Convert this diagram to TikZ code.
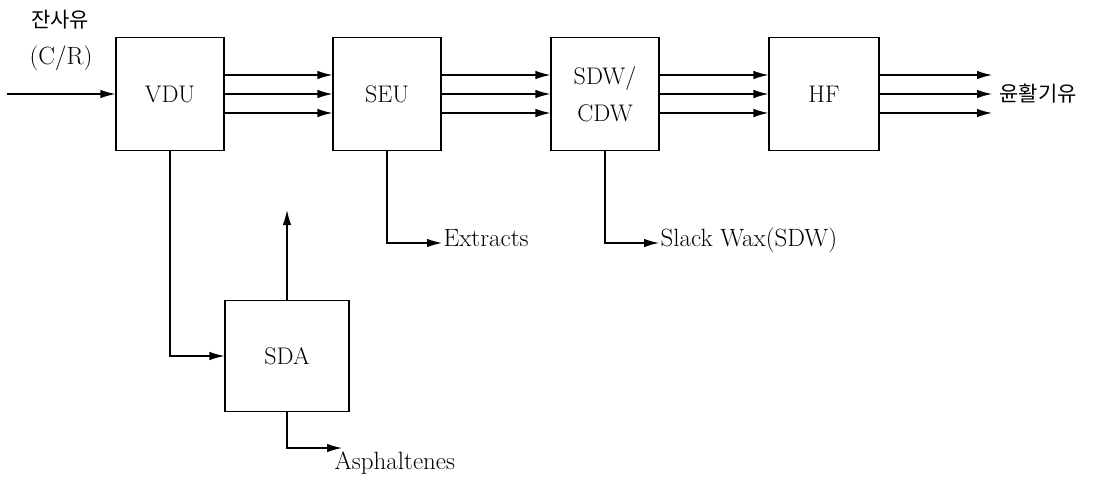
\documentclass[tikz,border=0pt]{standalone}
\usepackage{fontspec}
\newfontfamily\krfont{Noto Sans CJK KR}
\usetikzlibrary{arrows.meta, positioning}

\begin{document}
\begin{tikzpicture}[x=1pt, y=-1pt, line width=1.2pt,
  unit/.style={draw, minimum width=108pt, minimum height=113pt, inner sep=0pt,
               font=\fontsize{24}{37}\selectfont, align=center},
  flow/.style={-{Latex[length=15pt,width=8.5pt]}},
  outlabel/.style={font=\fontsize{25}{28}\selectfont, inner sep=1pt, anchor=west,
                   text height=1.6ex, text depth=0pt},
  krlabel/.style={font=\krfont\fontsize{21}{25}\selectfont, inner sep=1pt}]
\useasboundingbox (0,0) rectangle (1099,480);

% main units
\node [unit] (vdu) at (170,94) {VDU};
\node [unit] (seu) at (387,94) {SEU};
\node [unit] (sdw) at (605,94) {SDW/\\CDW};
\node [unit, minimum width=110pt] (hf) at (824,94) {HF};
\node [unit, minimum width=124pt, minimum height=111pt] (sda) at (287,356) {SDA};

\coordinate (feed) at (7,94);
\coordinate (hfend) at (992,94);
\coordinate (sdaout) at (287,210);
\coordinate (asphend) at (342,448);

\node [krlabel] (feedname) at (60,20) {잔사유};
\node [font=\fontsize{25}{28}\selectfont, inner sep=1pt] (feedcr) at (61,58) {(C/R)};
\node [krlabel, anchor=west] (oil) at (998,94) {윤활기유};

\draw [flow] (feed) -- (vdu.west);
\foreach \d in {-19,0,19} {
  \draw [flow] ([yshift=\d]vdu.east) -- ([yshift=\d]seu.west);
  \draw [flow] ([yshift=\d]seu.east) -- ([yshift=\d]sdw.west);
  \draw [flow] ([yshift=\d]sdw.east) -- ([yshift=\d]hf.west);
  \draw [flow] ([yshift=\d]hf.east) -- ([yshift=\d]hfend);
}

% side streams
\node [outlabel] (ext) at (442,243) {Extracts};
\node [outlabel] (wax) at (659,243) {Slack Wax(SDW)};
\node [outlabel, anchor=base west] (asph) at (333,469) {Asphaltenes};

\draw [flow] (seu.south) |- (ext.west);
\draw [flow] (sdw.south) |- (wax.west);
\draw [flow] (vdu.south) |- (sda.west);
\draw [flow] (sda.north) -- (sdaout);
\draw [flow] (sda.south) |- (asphend);

\end{tikzpicture}
\end{document}
